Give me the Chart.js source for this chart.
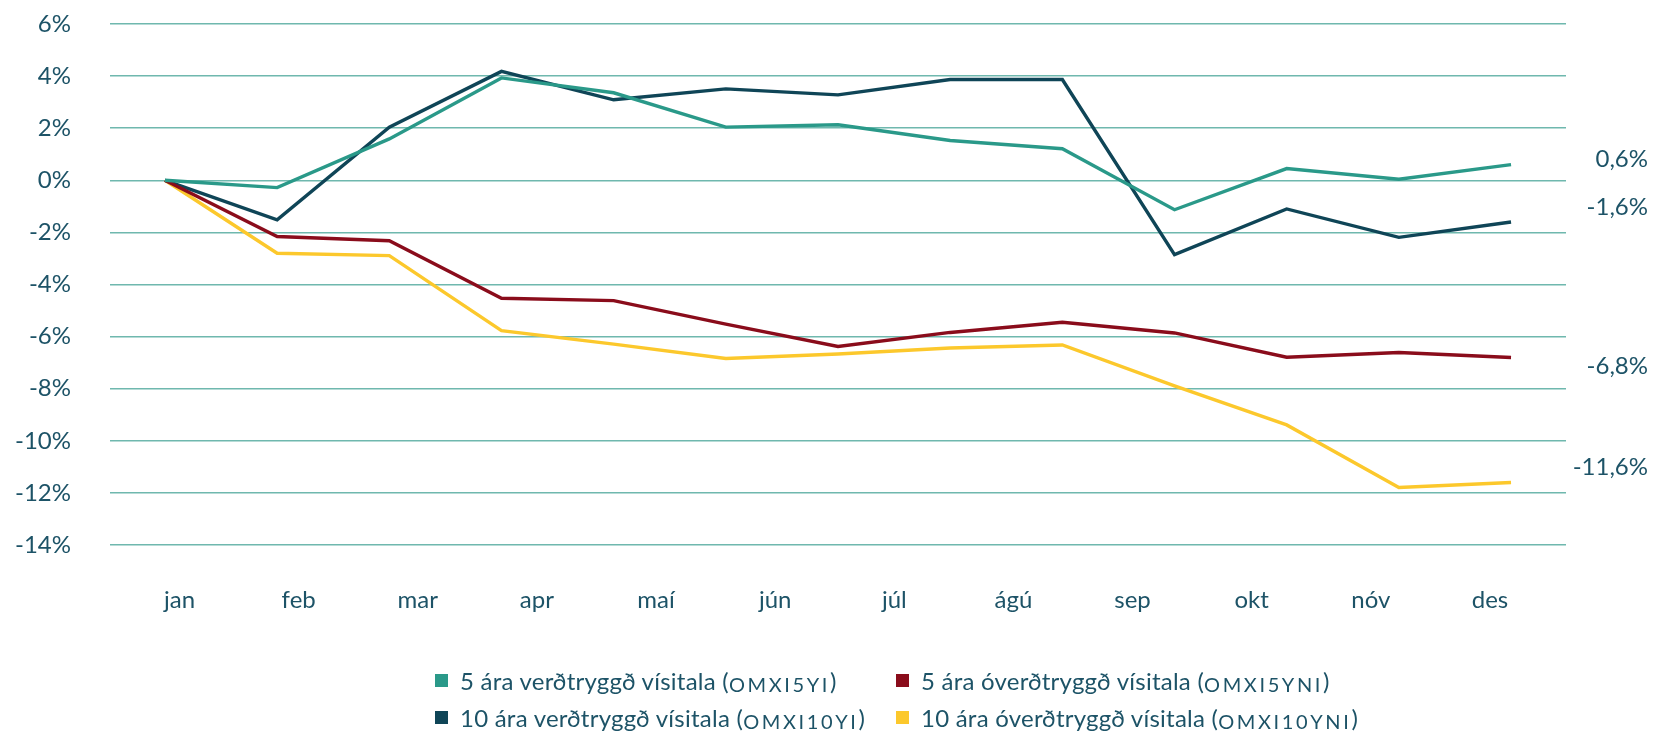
<!doctype html>
<html lang="is">
<head>
<meta charset="utf-8">
<title>Vísitölur skuldabréfa</title>
<script src="https://cdn.jsdelivr.net/npm/chart.js@4.4.1/dist/chart.umd.min.js"></script>
<style>
  html, body { margin: 0; padding: 0; background: #fff; }
  #wrap { position: relative; width: 1655px; height: 731px; }
  #legend {
    position: absolute; left: 435px; top: 665px;
    display: grid; grid-template-columns: 461px auto; row-gap: 7px;
    font: 24px Lato, sans-serif; color: #1d5367;
  }
  .item { display: flex; align-items: center; height: 30px; white-space: nowrap; letter-spacing: 0.01em; }
  .sq { width: 13px; height: 13px; margin-right: 12px; }
  .sc { font-variant: all-small-caps; letter-spacing: 0.09em; font-size: 29px; }
</style>
</head>
<body>
<div id="wrap">
  <canvas id="myChart" width="1655" height="731"></canvas>
  <div id="legend"></div>
</div>
<script>
  const months = ['jan', 'feb', 'mar', 'apr', 'maí', 'jún', 'júl', 'ágú', 'sep', 'okt', 'nóv', 'des'];

  // 13 points, start of year to end of year (%)
  const verd5 = [0, -0.28, 1.59, 3.93, 3.36, 2.04, 2.13, 1.53, 1.21, -1.13, 0.45, 0.04, 0.6];
  const overd5 = [0, -2.16, -2.32, -4.53, -4.62, -5.52, -6.38, -5.84, -5.45, -5.86, -6.79, -6.61, -6.8];
  const verd10 = [0, -1.52, 2.04, 4.18, 3.09, 3.51, 3.28, 3.87, 3.87, -2.85, -1.10, -2.19, -1.6];
  const overd10 = [0, -2.8, -2.89, -5.77, -6.29, -6.84, -6.67, -6.44, -6.32, -7.89, -9.39, -11.79, -11.6];

  const seriesNames = [
    ['5 ára verðtryggð vísitala', 'OMXI5YI'],
    ['5 ára óverðtryggð vísitala', 'OMXI5YNI'],
    ['10 ára verðtryggð vísitala', 'OMXI10YI'],
    ['10 ára óverðtryggð vísitala', 'OMXI10YNI']
  ];
  const colors = ['#2a9989', '#8a0c1b', '#0f4557', '#fcc82c'];
  // where the end-of-year labels sit on the y axis (value units)
  const endLabelAt = [0.82, -7.14, -1.03, -11.03];

  const textColor = '#1d5367';
  const font = { family: 'Lato', size: 24 };

  const toPoints = arr => arr.map((v, i) => ({ x: i, y: v }));
  const series = [verd5, overd5, verd10, overd10];

  const endLabels = {
    id: 'endLabels',
    afterDatasetsDraw(chart) {
      const { ctx, chartArea, scales: { y } } = chart;
      ctx.save();
      ctx.font = '24px Lato';
      ctx.fillStyle = textColor;
      ctx.textAlign = 'right';
      ctx.textBaseline = 'middle';
      chart.data.datasets.forEach((ds, i) => {
        const last = ds.data[ds.data.length - 1].y;
        const txt = last.toFixed(1).replace('.', ',') + '%';
        ctx.fillText(txt, chartArea.right + 82, y.getPixelForValue(endLabelAt[i]));
      });
      ctx.restore();
    }
  };

  new Chart(document.getElementById('myChart'), {
    type: 'line',
    data: {
      datasets: series.map((s, i) => ({
        label: seriesNames[i][0] + ' (' + seriesNames[i][1] + ')',
        data: toPoints(s),
        borderColor: colors[i],
        backgroundColor: colors[i],
        borderWidth: 3.4,
        pointRadius: 0,
        tension: 0
      }))
    },
    options: {
      responsive: false,
      animation: false,
      layout: { padding: { top: 0, right: 89, left: 0, bottom: 0 } },
      plugins: {
        legend: { display: false },
        tooltip: { enabled: false }
      },
      scales: {
        x: {
          type: 'linear',
          min: -0.49,
          max: 12.49,
          grid: { display: false, drawTicks: false },
          border: { display: false },
          afterBuildTicks(scale) {
            scale.ticks = months.map((m, i) => ({ value: 0.13 + i * 1.062 }));
          },
          afterFit(scale) { scale.height = 186; },
          ticks: {
            autoSkip: false,
            maxRotation: 0,
            padding: 41,
            color: textColor,
            font,
            callback: (v, i) => months[i]
          }
        },
        y: {
          min: -14,
          max: 6,
          grid: { color: '#6fb8ae', lineWidth: 1.5, drawTicks: false },
          border: { display: false },
          afterFit(scale) {
            scale.width = 110;
            // tick padding otherwise gets added on top of the plot
            scale.paddingTop = 24;
            scale.paddingBottom = 0;
          },
          ticks: {
            stepSize: 2,
            padding: 39,
            color: textColor,
            font,
            callback: v => v + '%'
          }
        }
      }
    },
    plugins: [endLabels]
  });

  // legend: 2 x 2 grid in reading order of the original
  const legendOrder = [0, 1, 2, 3];
  document.getElementById('legend').innerHTML = legendOrder.map(i =>
    '<div class="item"><span class="sq" style="background:' + colors[i] + '"></span>' +
    seriesNames[i][0] + '&nbsp;(<span class="sc">' + seriesNames[i][1] + '</span>)</div>'
  ).join('');
</script>
</body>
</html>
